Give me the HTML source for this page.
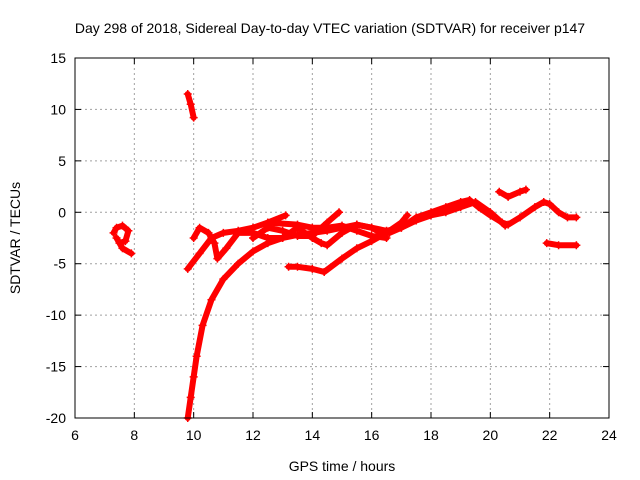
<!DOCTYPE html>
<html><head><meta charset="utf-8"><style>
body{margin:0;background:#fff;}
svg{display:block;font-family:"Liberation Sans",sans-serif;}
</style></head><body>
<svg id="chart" width="640" height="480">
<text x="330" y="33" text-anchor="middle" font-size="14">Day 298 of 2018, Sidereal Day-to-day VTEC variation (SDTVAR) for receiver p147</text>
<text x="342" y="471" text-anchor="middle" font-size="14">GPS time / hours</text>
<text transform="translate(20,238) rotate(-90)" text-anchor="middle" font-size="14">SDTVAR / TECUs</text>
<g id="grid"></g><g id="series"></g><g id="axes"></g>
</svg>
<script>
const xTicks=[6,8,10,12,14,16,18,20,22,24];
const yTicks=[-20,-15,-10,-5,0,5,10,15];
const trackA=[[7.3,-2],[7.4,-1.5],[7.6,-1.3],[7.8,-1.8],[7.7,-2.8],[7.5,-3],[7.4,-2.5],[7.6,-3.5],[7.9,-4]];
const trackB=[[9.8,11.5],[9.9,10.5],[10.0,9.2]];
const trackC=[[9.8,-20],[9.9,-18],[10.0,-16],[10.1,-14],[10.3,-11],[10.6,-8.5],[11,-6.5],[11.5,-5],[12,-3.8],[12.5,-3],[13,-2.5],[13.5,-2.2],[14,-2],[14.5,-1.8],[15,-1.5],[15.5,-1.2],[16,-1.5],[16.5,-1.8],[17,-1.5],[17.5,-0.5],[18,0],[18.5,0.5],[19,1],[19.3,1.2],[19.6,0.5],[20,-0.3],[20.4,-1],[20.6,-1.2],[21,-0.5],[21.5,0.5],[21.8,1],[22,0.8],[22.3,0],[22.6,-0.5],[22.9,-0.5]];
const trackD=[[9.8,-5.5],[10.2,-4],[10.6,-2.5],[11,-2],[11.5,-1.8],[12,-1.5],[12.5,-1],[13.1,-0.3]];
const trackE=[[10,-2.5],[10.2,-1.5],[10.5,-2],[10.7,-3],[10.8,-4.5],[11.1,-3.5],[11.5,-2],[12,-2],[12.5,-2.5],[13,-2.5],[13.5,-1.5],[14,-2.5],[14.3,-3],[14.5,-3.2],[15,-2],[15.5,-1.2],[16,-1.5],[16.3,-2],[16.6,-2],[17,-1.5],[17.5,-0.8],[18,-0.3],[18.5,0],[19,0.5],[19.5,1],[20,0],[20.5,-1.3]];
const trackF=[[12,-2.5],[12.5,-1.5],[13,-1.8],[13.5,-2.3],[14,-2.3],[14.5,-1],[14.9,0]];
const trackG=[[13.2,-5.3],[13.5,-5.3],[14,-5.5],[14.4,-5.8],[15,-4.5],[15.5,-3.5],[16,-2.8],[16.5,-2],[17,-1],[17.2,-0.3]];
const trackH=[[20.3,2],[20.6,1.5],[21,2],[21.2,2.2]];
const trackI=[[21.9,-3],[22.3,-3.2],[22.9,-3.2]];
const trackJ=[[12.5,-1],[13.5,-1.2],[14,-1.5],[14.5,-1.5],[15,-1.3],[15.5,-1.8],[16,-2.3],[16.5,-2.5]];
const tracks=[trackA,trackB,trackC,trackD,trackE,trackF,trackG,trackH,trackI,trackJ];
const X0=75,X1=609,Y0=418,Y1=58;
const xs=t=>X0+(t-6)/18*(X1-X0);
const ys=v=>Y0-(v+20)/35*(Y0-Y1);
const NS='http://www.w3.org/2000/svg';
function mk(tag,attrs,parent){const e=document.createElementNS(NS,tag);for(const k in attrs)e.setAttribute(k,attrs[k]);parent.appendChild(e);return e;}
const grid=document.getElementById('grid'),axes=document.getElementById('axes'),ser=document.getElementById('series');
xTicks.forEach(t=>{const x=xs(t);
 if(t>6&&t<24){const g=mk('line',{x1:x,x2:x,y1:Y1,y2:Y0,stroke:'#a0a0a0','stroke-dasharray':'2,3'},grid);}
 mk('line',{x1:x,x2:x,y1:Y0,y2:Y0-6,stroke:'#000'},axes);mk('line',{x1:x,x2:x,y1:Y1,y2:Y1+6,stroke:'#000'},axes);
 const l=mk('text',{x:x,y:Y0+22,'text-anchor':'middle','font-size':14},axes);l.textContent=t;
 });
yTicks.forEach(v=>{const y=ys(v);
 if(v>-20&&v<15){const g=mk('line',{x1:X0,x2:X1,y1:y,y2:y,stroke:'#a0a0a0','stroke-dasharray':'2,3'},grid);}
 mk('line',{x1:X0,x2:X0+6,y1:y,y2:y,stroke:'#000'},axes);mk('line',{x1:X1,x2:X1-6,y1:y,y2:y,stroke:'#000'},axes);
 const l=mk('text',{x:X0-9,y:y+5,'text-anchor':'end','font-size':14},axes);l.textContent=v;
 });
const fr=mk('rect',{x:X0,y:Y1,width:X1-X0,height:Y0-Y1,fill:'none',stroke:'#000'},axes);

tracks.forEach((tr,i)=>{
 const p=mk('polyline',{points:tr.map(d=>xs(d[0])+','+ys(d[1])).join(' '),fill:'none',stroke:'#f00','stroke-width':6,'stroke-linejoin':'round','stroke-linecap':'round'},ser);
 
 
 tr.forEach(d=>{const x=xs(d[0]),y=ys(d[1]);
  const m=mk('path',{d:`M${x-4},${y}h8M${x},${y-4}v8`,stroke:'#f00','stroke-width':1.5},ser);
  
  });
});
</script>
</body></html>
